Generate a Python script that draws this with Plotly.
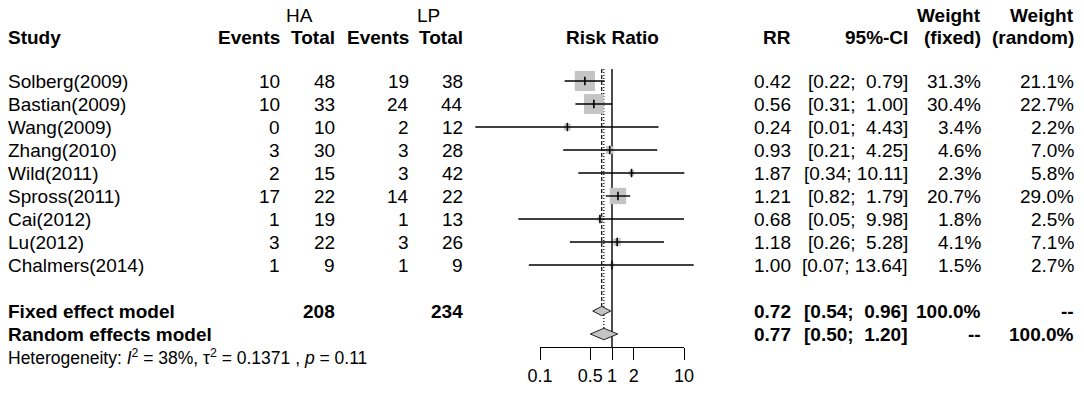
import numpy as np
import plotly.graph_objects as go

# ---------------- data ----------------
studies = ["Solberg(2009)", "Bastian(2009)", "Wang(2009)", "Zhang(2010)", "Wild(2011)",
           "Spross(2011)", "Cai(2012)", "Lu(2012)", "Chalmers(2014)"]
ha_events = [10, 10, 0, 3, 2, 17, 1, 3, 1]
ha_total = [48, 33, 10, 30, 15, 22, 19, 22, 9]
lp_events = [19, 24, 2, 3, 3, 14, 1, 3, 1]
lp_total = [38, 44, 12, 28, 42, 22, 13, 26, 9]
rr = [0.42, 0.56, 0.24, 0.93, 1.87, 1.21, 0.68, 1.18, 1.00]
ci_lo = [0.22, 0.31, 0.0126, 0.21, 0.34, 0.82, 0.05, 0.26, 0.07]
ci_hi = [0.79, 1.00, 4.43, 4.25, 10.11, 1.79, 9.98, 5.28, 13.64]
w_fixed = [31.3, 30.4, 3.4, 4.6, 2.3, 20.7, 1.8, 4.1, 1.5]
w_random = [21.1, 22.7, 2.2, 7.0, 5.8, 29.0, 2.5, 7.1, 2.7]

fixed_rr, fixed_lo, fixed_hi = 0.72, 0.54, 0.96
random_rr, random_lo, random_hi = 0.77, 0.50, 1.20
ha_sum, lp_sum = 208, 234
het_text = ("Heterogeneity: <i>I</i><sup>2</sup> = 38%, τ<sup>2</sup> = 0.1371 , "
            "<i>p</i> = 0.11")

axis_ticks = [0.1, 0.5, 1, 2, 10]
axis_ticktext = ["0.1", "0.5", "1", "2", "10"]

# ---------------- layout geometry ----------------
W, H = 1084, 395
ROW0_PX, ROW_H = 81, 23
Y_TOP = -ROW0_PX / ROW_H
Y_BOT = (H - ROW0_PX) / ROW_H
X_ONE_PX, PX_PER_DEC = 612, 72
X_LOG_MIN = (0 - X_ONE_PX) / PX_PER_DEC
X_LOG_MAX = (W - X_ONE_PX) / PX_PER_DEC

n = len(studies)
rows = list(range(n))
ROW_FIXED, ROW_RANDOM, ROW_HET = n + 1, n + 2, n + 3
ROW_HDR1, ROW_HDR2 = -2.85, -1.9
ROW_LINE_TOP = -0.52
ROW_AXIS = (347 - ROW0_PX) / ROW_H

FONT = "Liberation Sans, Arial, Helvetica, sans-serif"
FS = 19
GREY = "#C4C4C4"

fig = go.Figure()

# reference lines
fig.add_trace(go.Scatter(x=[1, 1], y=[ROW_LINE_TOP, ROW_AXIS], mode="lines",
                         line=dict(color="black", width=1.4), hoverinfo="skip"))
fig.add_trace(go.Scatter(x=[fixed_rr, fixed_rr], y=[ROW_LINE_TOP, ROW_FIXED - 0.2], mode="lines",
                         line=dict(color="black", width=1.2, dash="4px,2px"), hoverinfo="skip"))
fig.add_trace(go.Scatter(x=[random_rr, random_rr], y=[ROW_LINE_TOP, ROW_RANDOM - 0.25], mode="lines",
                         line=dict(color="black", width=1.2, dash="1px,2px"), hoverinfo="skip"))

# squares (area proportional to fixed-effect weight)
fig.add_trace(go.Scatter(x=rr, y=rows, mode="markers",
                         marker=dict(symbol="square", color=GREY, opacity=1,
                                     size=[3.6 * np.sqrt(w) for w in w_fixed],
                                     line=dict(width=0)),
                         hoverinfo="skip"))

# CI lines
cx, cy = [], []
for i in range(n):
    cx += [ci_lo[i], ci_hi[i], None]
    cy += [rows[i], rows[i], None]
fig.add_trace(go.Scatter(x=cx, y=cy, mode="lines", line=dict(color="black", width=1.4),
                         hoverinfo="skip"))

# estimate ticks
fig.add_trace(go.Scatter(x=rr, y=rows, mode="markers",
                         marker=dict(symbol="line-ns", size=6, opacity=1,
                                     line=dict(color="black", width=1.6)),
                         hoverinfo="skip"))

# diamonds
for est, lo, hi, row, hh in [(fixed_rr, fixed_lo, fixed_hi, ROW_FIXED, 0.2),
                             (random_rr, random_lo, random_hi, ROW_RANDOM, 0.25)]:
    fig.add_trace(go.Scatter(x=[lo, est, hi, est, lo], y=[row, row - hh, row, row + hh, row],
                             mode="lines", fill="toself", fillcolor=GREY,
                             line=dict(color="#222222", width=1), hoverinfo="skip"))

# dummy trace for the visible risk-ratio axis
fig.add_trace(go.Scatter(x=[1], y=[ROW_AXIS], xaxis="x2", yaxis="y", mode="markers",
                         marker=dict(opacity=0), hoverinfo="skip"))

annotations = []


def txt(px, row, text, anchor="right", bold=False, size=FS):
    if bold:
        text = "<b>" + text + "</b>"
    annotations.append(dict(x=px / W, xref="paper", y=row, yref="y", text=text,
                            showarrow=False, xanchor=anchor, yanchor="middle",
                            font=dict(family=FONT, size=size, color="black")))


NB = "\u00a0"


def fmt_ci(lo, hi):
    h = f"{hi:.2f}"
    pad = NB * (5 - len(h))
    return f"[{lo:.2f};{NB}{pad}{h}]"


C_NAME, C_HAE, C_HAT, C_LPE, C_LPT = 6, 282, 337, 410.5, 465
C_RR, C_CI, C_WF, C_WR, C_FOREST = 793, 910, 983, 1076, 612

# headers
txt(299, ROW_HDR1, "HA", anchor="center")
txt(428, ROW_HDR1, "LP", anchor="center")
txt(C_WF, ROW_HDR1, "Weight", bold=True)
txt(C_WR, ROW_HDR1, "Weight", bold=True)
txt(C_NAME, ROW_HDR2, "Study", anchor="left", bold=True)
txt(C_HAE, ROW_HDR2, "Events", bold=True)
txt(C_HAT, ROW_HDR2, "Total", bold=True)
txt(C_LPE, ROW_HDR2, "Events", bold=True)
txt(C_LPT, ROW_HDR2, "Total", bold=True)
txt(C_FOREST, ROW_HDR2, "Risk Ratio", anchor="center", bold=True)
txt(C_RR, ROW_HDR2, "RR", bold=True)
txt(C_CI, ROW_HDR2, "95%-CI", bold=True)
txt(C_WF, ROW_HDR2, "(fixed)", bold=True)
txt(C_WR, ROW_HDR2, "(random)", bold=True)

for i in range(n):
    r = rows[i]
    txt(C_NAME, r, studies[i], anchor="left")
    txt(C_HAE, r, str(ha_events[i]))
    txt(C_HAT, r, str(ha_total[i]))
    txt(C_LPE, r, str(lp_events[i]))
    txt(C_LPT, r, str(lp_total[i]))
    txt(C_RR, r, f"{rr[i]:.2f}")
    txt(C_CI, r, fmt_ci(ci_lo[i], ci_hi[i]))
    txt(C_WF, r, f"{w_fixed[i]:.1f}%")
    txt(C_WR, r, f"{w_random[i]:.1f}%")

txt(C_NAME, ROW_FIXED, "Fixed effect model", anchor="left", bold=True)
txt(C_HAT, ROW_FIXED, str(ha_sum), bold=True)
txt(C_LPT, ROW_FIXED, str(lp_sum), bold=True)
txt(C_RR, ROW_FIXED, f"{fixed_rr:.2f}", bold=True)
txt(C_CI, ROW_FIXED, fmt_ci(fixed_lo, fixed_hi), bold=True)
txt(C_WF, ROW_FIXED, "100.0%", bold=True)
txt(C_WR, ROW_FIXED, "--", bold=True)

txt(C_NAME, ROW_RANDOM, "Random effects model", anchor="left", bold=True)
txt(C_RR, ROW_RANDOM, f"{random_rr:.2f}", bold=True)
txt(C_CI, ROW_RANDOM, fmt_ci(random_lo, random_hi), bold=True)
txt(C_WF, ROW_RANDOM, "--", bold=True)
txt(C_WR, ROW_RANDOM, "100.0%", bold=True)

txt(C_NAME, ROW_HET, het_text, anchor="left", size=17.5)

fig.update_layout(
    width=W, height=H, margin=dict(l=0, r=0, t=0, b=0, pad=0, autoexpand=False),
    paper_bgcolor="white", plot_bgcolor="rgba(0,0,0,0)",
    showlegend=False,
    xaxis=dict(type="log", range=[X_LOG_MIN, X_LOG_MAX], domain=[0, 1], visible=False,
               fixedrange=True, automargin=False),
    yaxis=dict(range=[Y_BOT, Y_TOP], domain=[0, 1], visible=False, fixedrange=True,
               automargin=False),
    xaxis2=dict(type="log", range=[np.log10(axis_ticks[0]), np.log10(axis_ticks[-1])],
                domain=[(X_ONE_PX - PX_PER_DEC) / W, (X_ONE_PX + PX_PER_DEC) / W],
                anchor="free", position=1 - 347 / H, automargin=False,
                showline=True, linecolor="black", linewidth=1.2,
                ticks="outside", ticklen=12, tickwidth=1.2, tickcolor="black",
                tickvals=axis_ticks, ticktext=axis_ticktext, tickangle=0,
                tickfont=dict(family=FONT, size=18, color="black"),
                showgrid=False, zeroline=False, fixedrange=True),
    annotations=annotations,
)

fig.write_html("out.html", config={"displayModeBar": False},
               post_script="document.body.style.margin='0';")
